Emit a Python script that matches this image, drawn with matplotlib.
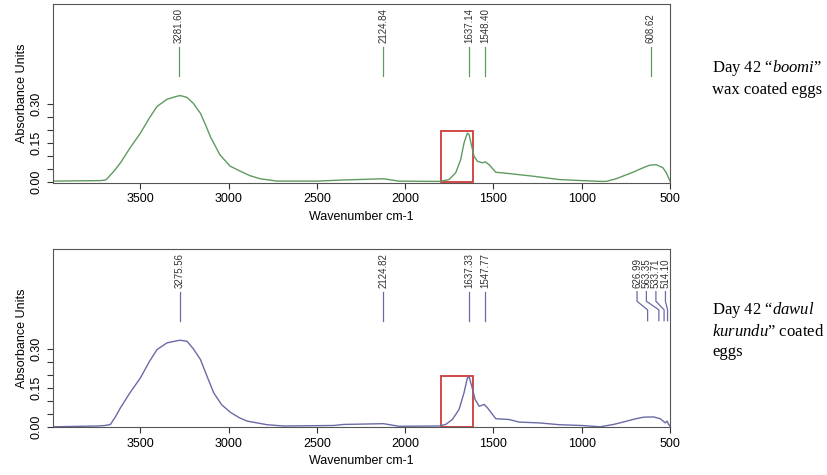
import matplotlib.pyplot as plt
import matplotlib.patches as patches

plt.rcParams['font.family'] = ['Liberation Sans', 'DejaVu Sans']
plt.rcParams['mathtext.fontset'] = 'custom'
plt.rcParams['mathtext.rm'] = 'Liberation Serif'
plt.rcParams['mathtext.it'] = 'Liberation Serif:italic'

# spectrum (wavenumber, absorbance)
wn_boomi = [3995, 3726, 3700, 3689, 3650, 3613, 3560, 3500, 3450, 3406, 3349,
            3300, 3274, 3236, 3200, 3160, 3130, 3104, 3050, 2991, 2934, 2880,
            2821, 2726, 2500, 2368, 2123, 2036, 1847, 1805, 1752, 1714, 1686,
            1667, 1648, 1638, 1623, 1610, 1591, 1562, 1547, 1525, 1487, 1411,
            1278, 1127, 1000, 896, 862, 805, 760, 710, 660, 616, 578, 540, 521,
            500]
ab_boomi = [0.004, 0.006, 0.008, 0.013, 0.042, 0.074, 0.130, 0.188, 0.245, 0.290,
            0.318, 0.328, 0.332, 0.325, 0.302, 0.264, 0.218, 0.175, 0.105, 0.061,
            0.042, 0.025, 0.013, 0.004, 0.004, 0.008, 0.013, 0.004, 0.003, 0.003,
            0.010, 0.036, 0.086, 0.150, 0.188, 0.182, 0.137, 0.099, 0.080, 0.074,
            0.078, 0.067, 0.038, 0.033, 0.023, 0.010, 0.006, 0.003, 0.003, 0.013,
            0.025, 0.038, 0.053, 0.065, 0.067, 0.055, 0.036, 0.004]

wn_dawul = [3995, 3745, 3700, 3670, 3640, 3613, 3560, 3500, 3450, 3406, 3349,
            3300, 3274, 3236, 3200, 3160, 3120, 3085, 3040, 2991, 2940, 2896,
            2783, 2689, 2406, 2349, 2123, 2036, 1809, 1771, 1733, 1695, 1667,
            1648, 1638, 1623, 1604, 1581, 1553, 1534, 1487, 1411, 1354, 1241,
            1127, 1000, 896, 820, 744, 700, 650, 593, 555, 527, 517, 508, 500]
ab_dawul = [0.000, 0.003, 0.005, 0.009, 0.040, 0.073, 0.130, 0.188, 0.250, 0.297,
            0.323, 0.330, 0.333, 0.329, 0.300, 0.259, 0.190, 0.131, 0.085, 0.056,
            0.035, 0.022, 0.008, 0.003, 0.005, 0.009, 0.012, 0.002, 0.003, 0.009,
            0.028, 0.067, 0.131, 0.188, 0.192, 0.156, 0.105, 0.079, 0.086, 0.073,
            0.031, 0.028, 0.018, 0.015, 0.008, 0.005, 0.000, 0.009, 0.022, 0.030,
            0.037, 0.038, 0.031, 0.015, 0.022, 0.009, 0.003]

peaks_boomi = [3281.60, 2124.84, 1637.14, 1548.40, 608.62]
peaks_dawul = [3275.56, 2124.82, 1637.33, 1547.77, 626.99, 563.35, 533.71, 514.10]
# where the crowded labels are shifted to (wavenumber)
label_pos_dawul = [3275.56, 2124.82, 1637.33, 1547.77, 687, 634, 580, 526]

green = '#5f9a60'
blue = '#6a6aa6'
red = '#d03a3a'

fig = plt.figure(figsize=(8.27, 4.75), dpi=100)
ax1 = fig.add_axes([0.0641, 0.6154, 0.7461, 0.3762])
ax2 = fig.add_axes([0.0641, 0.1004, 0.7461, 0.3748])


def style(ax):
    ax.set_xlim(3995, 500)
    ax.set_ylim(-0.002, 0.683)
    ax.set_xticks([3500, 3000, 2500, 2000, 1500, 1000, 500])
    ax.set_yticks([0, 0.05, 0.10, 0.15, 0.20, 0.25, 0.30])
    ax.set_yticklabels(['0.00', '', '', '0.15', '', '', '0.30'], rotation=90, va='center')
    ax.tick_params(labelsize=9, length=4, width=0.8, color='#333333')
    ax.set_xlabel('Wavenumber cm-1', fontsize=9, labelpad=4)
    ax.set_ylabel('Absorbance Units', fontsize=9, labelpad=2)
    for s in ax.spines.values():
        s.set_color('#555555')
        s.set_linewidth(0.8)


def peak_labels(ax, peaks, label_x, color):
    for p, lx in zip(peaks, label_x):
        if lx == p:
            ax.plot([p, p], [0.408, 0.52], color=color, lw=0.9)
        else:
            ax.plot([lx, lx, p, p], [0.52, 0.483, 0.45, 0.408], color=color, lw=0.9)
        ax.text(lx, 0.533, f'{p:.2f}', rotation=90, ha='center', va='bottom',
                fontsize=7, color='#333333')


style(ax1)
ax1.plot(wn_boomi, ab_boomi, color=green, lw=1.0)
peak_labels(ax1, peaks_boomi, peaks_boomi, green)
ax1.add_patch(patches.Rectangle((1800, 0), -185, 0.197, fill=False,
                                edgecolor=red, lw=1.3))

style(ax2)
ax2.plot(wn_dawul, ab_dawul, color=blue, lw=1.0)
peak_labels(ax2, peaks_dawul, label_pos_dawul, blue)
ax2.add_patch(patches.Rectangle((1800, 0), -185, 0.197, fill=False,
                                edgecolor=red, lw=1.3))

fig.text(0.861, 0.835, 'Day 42 \u201c$\\mathit{boomi}$\u201d\nwax coated eggs',
         fontsize=12, family='Liberation Serif', va='center', linespacing=1.35)
fig.text(0.861, 0.305, 'Day 42 \u201c$\\mathit{dawul}$\n$\\mathit{kurundu}$\u201d coated\neggs',
         fontsize=12, family='Liberation Serif', va='center', linespacing=1.35)

fig.savefig('out.png', dpi=100)
